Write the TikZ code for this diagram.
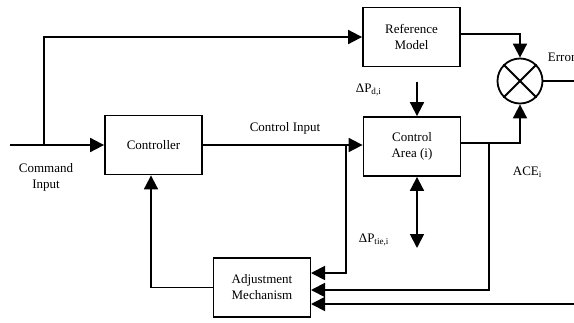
\documentclass[tikz,border=0pt]{standalone}
\usepackage{fontspec}
\setmainfont{Liberation Serif}
\usetikzlibrary{arrows.meta,calc}
\begin{document}
\begin{tikzpicture}[x=1pt,y=-1pt,
  line width=1.8pt,
  font=\fontsize{13}{16}\selectfont,
  blk/.style={draw,rectangle,minimum width=97pt,minimum height=59pt,align=center,inner sep=0pt},
  arr/.style={-{Triangle[length=14pt,width=14pt]}},
  darr/.style={{Triangle[length=14pt,width=14pt]}-{Triangle[length=14pt,width=14pt]}},
  lbl/.style={inner sep=0pt,align=center}]
\useasboundingbox (0,0) rectangle (574,322);

% blocks
\node[blk] (ctrl) at (153.5,145) {Controller};
\node[blk] (ref) at (411.5,37) {Reference\\Model};
\node[blk] (area) at (412,146.5) {Control\\Area (i)};
\node[blk] (adj) at (262,287.5) {Adjustment\\Mechanism};
\node[draw,circle,minimum size=45pt,inner sep=0pt] (sum) at (520,81) {};
\draw (sum.north west) -- (sum.south east);
\draw (sum.north east) -- (sum.south west);

% free ends and branch points
\coordinate (cin) at (10,145);
\coordinate (split) at (44,145);
\coordinate (dpd) at (417,82);
\coordinate (dpt) at (417,248);
\coordinate (errout) at (574,81);
\coordinate (ainA) at (311,273);
\coordinate (ainB) at (311,290);
\coordinate (ainC) at (311,304);
\coordinate (fbin) at (574,304);
\coordinate (cbr) at (346,145);
\coordinate (abr) at (489,143);

% signal paths
\draw[arr] (cin) -- (ctrl.west);
\draw[arr] (split) |- (ref.west);
\draw[arr] (ref.east |- 0,34) -| (sum.north);
\draw[arr] (ctrl.east) -- (ctrl.east -| area.west);
\draw[arr] (area.east |- abr) -| (sum.south);
\draw (sum.east) -- (errout);
\draw[arr] (dpd) -- (dpd |- area.north);
\draw[darr] (dpd |- area.south) -- (dpt);
\draw[arr] (cbr) |- (ainA);
\draw[arr] (abr) |- (ainB);
\draw[arr] (fbin) -- (ainC);
\draw[arr] (adj.west) -| (151,0 |- ctrl.south);

% labels
\node[lbl] at (285,128) {Control Input};
\node[lbl] at (46,177) {Command\\Input};
\node[lbl,anchor=west] at (547,57) {Error};
\node[lbl,anchor=west] at (355,90) {ΔP\textsubscript{d,i}};
\node[lbl,anchor=west] at (358,240) {ΔP\textsubscript{tie,i}};
\node[lbl,anchor=west] at (512,172) {ACE\textsubscript{i}};
\end{tikzpicture}
\end{document}
